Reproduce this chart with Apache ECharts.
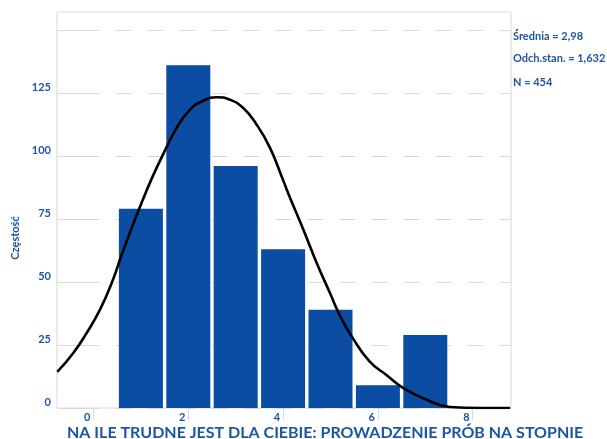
<!DOCTYPE html>
<html>
<head>
<meta charset="utf-8">
<script src="https://cdn.jsdelivr.net/npm/echarts@6/dist/echarts.min.js"></script>
<style>html,body{margin:0;padding:0;background:#fff}#c{width:607px;height:439px}</style>
</head>
<body>
<div id="c"></div>
<script>
// Histogram bins (value = centre of bin) and frequencies
var binCenters = [1, 2, 3, 4, 5, 6, 7];
var counts = [79, 136, 96, 63, 39, 9, 29];
// Fitted curve
var curveX = [-0.764, -0.426, -0.143, 0.137, 0.384, 0.595, 0.806, 1.017, 1.228, 1.473, 1.755, 2.036, 2.316, 2.599, 2.880, 3.160, 3.443, 3.724, 4.004, 4.146, 4.426, 4.709, 4.989, 5.200, 5.447, 5.823, 6.186, 6.536, 7.030, 7.521, 8.15, 8.79];
var curveY = [14.3, 21.8, 29.8, 39.0, 49.6, 60.8, 71.4, 81.5, 91.0, 100.8, 111.1, 118.4, 121.9, 123.3, 122.3, 119.0, 112.4, 103.2, 90.2, 83.4, 70.8, 57.5, 45.6, 36.6, 28.4, 18.5, 13.0, 7.9, 3.3, 0.4, 0, 0];
var xTickLabels = [0, 2, 4, 6, 8];
var yTickLabels = [0, 25, 50, 75, 100, 125];
var yGridValues = [0, 25, 50, 75, 100, 125, 150];
var stats = ['Średnia = 2,98', 'Odch.stan. = 1,632', 'N = 454'];
var xTitle = 'NA ILE TRUDNE JEST DLA CIEBIE: PROWADZENIE PRÓB NA STOPNIE';
var yTitle = 'Częstość';

var blue = '#1d56a5';
var gray = '#d9d9d9';
var chart = echarts.init(document.getElementById('c'), null, {renderer: 'canvas'});
var barData = binCenters.map(function (x, i) { return [x, counts[i]]; });
var lineData = curveX.map(function (x, i) { return [x, curveY[i]]; });

chart.setOption({
  animation: false,
  backgroundColor: '#fff',
  textStyle: {fontFamily: 'Lato'},
  title: {
    text: xTitle,
    left: 62, top: 420,
    textStyle: {color: blue, fontSize: 16, fontWeight: 'bold', fontFamily: 'Lato'}
  },
  grid: {left: 57, right: 96, top: 12, bottom: 31, show: true, borderColor: gray, borderWidth: 1},
  xAxis: {
    type: 'value', min: -0.77, max: 8.808,
    axisLine: {show: false},
    axisTick: {show: true, customValues: xTickLabels, length: 12, lineStyle: {color: gray}},
    axisLabel: {customValues: xTickLabels, color: blue, fontWeight: 'bold', fontSize: 11, align: 'right', margin: 4, padding: [0, 3, 0, 0]},
    splitLine: {show: false}
  },
  yAxis: {
    type: 'value', min: 0, max: 157.1,
    axisLine: {show: false},
    axisTick: {show: true, customValues: yGridValues, length: 28, lineStyle: {color: gray}},
    axisLabel: {customValues: yTickLabels, color: blue, fontWeight: 'bold', fontSize: 11, margin: 6, verticalAlign: 'bottom'},
    splitLine: {show: true, lineStyle: {color: gray, type: [15, 17], dashOffset: 5}}
  },
  graphic: [
    {type: 'text', left: 513, top: 31, style: {text: stats[0], fill: blue, font: 'bold 11px Lato'}},
    {type: 'text', left: 513, top: 53, style: {text: stats[1], fill: blue, font: 'bold 11px Lato'}},
    {type: 'text', left: 513, top: 77, style: {text: stats[2], fill: blue, font: 'bold 11px Lato'}},
    {type: 'text', x: 15, y: 238, rotation: Math.PI / 2, style: {text: yTitle, fill: blue, font: 'bold 11px Lato', align: 'center', verticalAlign: 'middle'}}
  ],
  series: [
    {type: 'bar', data: barData, barWidth: 44, itemStyle: {color: '#0b4da2'}, z: 2},
    {type: 'line', data: lineData, smooth: true, symbol: 'none', lineStyle: {color: '#000', width: 2.6}, z: 3}
  ]
});
</script>
</body>
</html>
